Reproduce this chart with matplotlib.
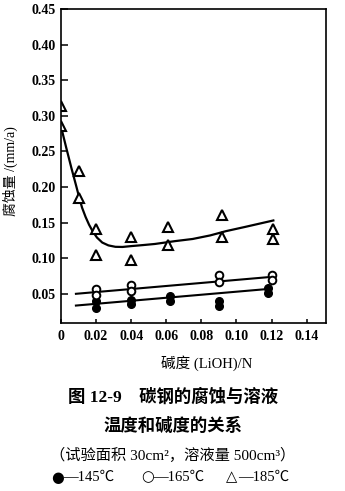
import matplotlib
matplotlib.use("Agg")
import matplotlib.pyplot as plt

# 145 C (filled circles)
x_145 = [0.02, 0.02, 0.04, 0.04, 0.062, 0.062, 0.09, 0.09, 0.118, 0.118]
y_145 = [0.0395, 0.030, 0.042, 0.035, 0.047, 0.040, 0.0405, 0.0335, 0.058, 0.051]
fit_145_x = [0.0085, 0.119]
fit_145_y = [0.0335, 0.057]

# 165 C (open circles)
x_165 = [0.02, 0.02, 0.04, 0.04, 0.09, 0.09, 0.12, 0.12]
y_165 = [0.057, 0.049, 0.062, 0.054, 0.076, 0.067, 0.077, 0.069]
fit_165_x = [0.0085, 0.121]
fit_165_y = [0.050, 0.074]

# 185 C (open triangles)
x_185 = [0.0, 0.0, 0.01, 0.01, 0.02, 0.02, 0.04, 0.04, 0.061, 0.061, 0.092, 0.092, 0.121, 0.121]
y_185 = [0.3135, 0.285, 0.223, 0.184, 0.141, 0.104, 0.130, 0.097, 0.144, 0.119, 0.161, 0.130, 0.141, 0.127]
fit_185_x = [0.0, 0.003, 0.006, 0.0085, 0.0103, 0.012, 0.014, 0.016, 0.018, 0.0205, 0.0235,
             0.027, 0.031, 0.035, 0.040, 0.047, 0.0535, 0.065, 0.075, 0.085, 0.094, 0.105, 0.121]
fit_185_y = [0.285, 0.255, 0.226, 0.203, 0.186, 0.171, 0.158, 0.147, 0.138, 0.129, 0.122,
             0.118, 0.116, 0.1158, 0.117, 0.1185, 0.120, 0.124, 0.127, 0.132, 0.138, 0.144, 0.153]

yticks = [0.05, 0.10, 0.15, 0.20, 0.25, 0.30, 0.35, 0.40, 0.45]
xticks = [0, 0.02, 0.04, 0.06, 0.08, 0.10, 0.12, 0.14]
xtick_labels = ["0", "0.02", "0.04", "0.06", "0.08", "0.10", "0.12", "0.14"]

key_symbols = ["●", "○", "△"]
key_labels = ["—145℃", "—165℃", "—185℃"]

# serif for latin and digits, CJK glyphs fall through to Noto
mixed = ["Liberation Serif", "Noto Sans CJK SC", "DejaVu Sans"]
plt.rcParams["font.family"] = mixed

fig = plt.figure(figsize=(3.45, 4.91), dpi=100)
ax = fig.add_axes([61 / 345, 1 - 323 / 491, (326 - 61) / 345, (323 - 9) / 491])

ax.plot(fit_145_x, fit_145_y, color="black", lw=1.5)
ax.plot(fit_165_x, fit_165_y, color="black", lw=1.5)
ax.plot(fit_185_x, fit_185_y, color="black", lw=1.6)

ax.plot(x_145, y_145, "o", ms=5.5, mfc="black", mec="black", ls="none")
ax.plot(x_165, y_165, "o", ms=5.5, mfc="white", mec="black", mew=1.4, ls="none")
ax.plot(x_185, y_185, "^", ms=7, mfc="white", mec="black", mew=1.5, ls="none")

ax.set_xlim(0, 0.151)
ax.set_ylim(0.009, 0.45)
ax.set_yticks(yticks)
ax.set_yticklabels([f"{v:.2f}" for v in yticks], fontsize=10, fontweight="bold")
ax.set_xticks(xticks)
ax.set_xticklabels(xtick_labels, fontsize=10, fontweight="bold")
ax.tick_params(axis="y", direction="in", length=5, width=1.1, pad=4)
ax.tick_params(axis="x", direction="in", length=3, width=1.1, pad=5)
for sp in ax.spines.values():
    sp.set_linewidth(1.2)

fig.text(10 / 345, 1 - 171 / 491, "腐蚀量 /(mm/a)", rotation=90, ha="center", va="center",
         fontsize=10)
fig.text(207 / 345, 1 - 363 / 491, "碱度 (LiOH)/N", ha="center", va="center", fontsize=10.5)

fig.text(173 / 345, 1 - 397 / 491, "图 12-9　碳钢的腐蚀与溶液", ha="center", va="center",
         fontsize=12.5, fontweight="bold")
fig.text(173 / 345, 1 - 426 / 491, "温度和碱度的关系", ha="center", va="center",
         fontsize=12.5, fontweight="bold")
fig.text(173 / 345, 1 - 455 / 491, "（试验面积 30cm²，溶液量 500cm³）", ha="center", va="center",
         fontsize=11)

# key line: symbols in DejaVu, temperatures in serif
key_y = 1 - 477 / 491
for sym, label, x0 in zip(key_symbols, key_labels, [51, 141, 226]):
    fig.text(x0 / 345, key_y, sym, ha="left", va="center", fontsize=10.5,
             family=["DejaVu Sans"])
    fig.text((x0 + 12) / 345, key_y, label, ha="left", va="center", fontsize=10.5)

fig.savefig("out.png", dpi=100)
